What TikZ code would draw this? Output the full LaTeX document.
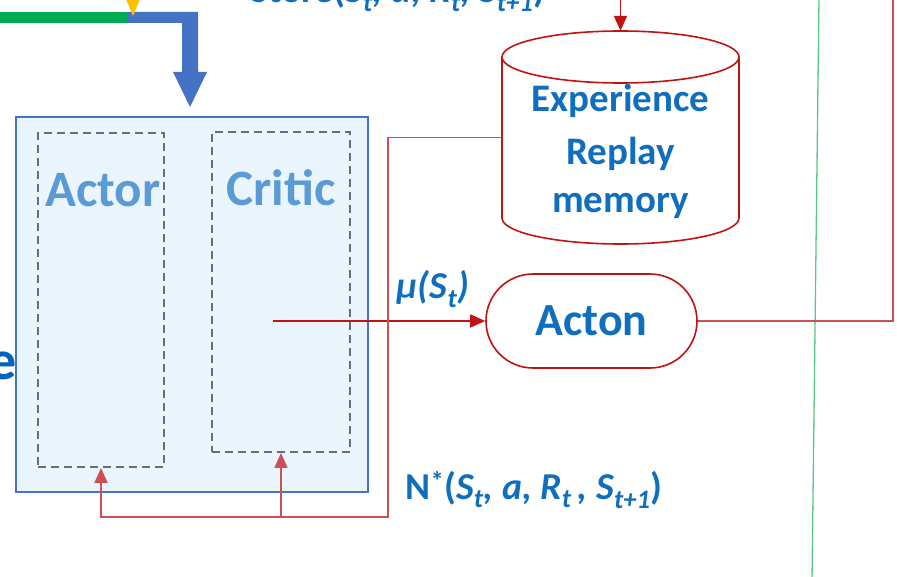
\documentclass[tikz,border=0pt]{standalone}
\usepackage{fontspec}
\setmainfont{Carlito}
\usetikzlibrary{arrows.meta}
\definecolor{boxblue}{RGB}{68,114,196}
\definecolor{boxfill}{RGB}{235,245,253}
\definecolor{dashgray}{RGB}{96,110,135}
\definecolor{lightblue}{RGB}{91,155,213}
\definecolor{textblue}{RGB}{16,110,190}
\definecolor{deepblue}{RGB}{0,100,190}
\definecolor{lineRed}{RGB}{192,20,20}
\definecolor{loopRed}{RGB}{205,80,85}
\definecolor{greenbar}{RGB}{0,170,80}
\definecolor{thingreen}{RGB}{90,200,140}
\definecolor{yellowtip}{RGB}{255,192,0}
\begin{document}
\begin{tikzpicture}[x=1pt,y=-1pt,
  outerbox/.style={draw=boxblue, fill=boxfill, line width=1.3pt, inner sep=0pt},
  dashbox/.style={draw=dashgray, line width=1.8pt, dash pattern=on 8pt off 5pt, inner sep=0pt},
  rolelabel/.style={text=lightblue, font=\fontsize{51}{60}\selectfont\bfseries, inner sep=0pt, anchor=base},
  memlabel/.style={text=textblue, font=\fontsize{39}{48}\selectfont\bfseries, inner sep=0pt, anchor=base},
  redline/.style={draw=lineRed, line width=1.6pt},
  looplne/.style={draw=loopRed, line width=1.5pt},
  redtip/.style={-{Triangle[length=15pt,width=13pt]}},
  sigtext/.style={text=textblue, font=\fontsize{38}{44}\selectfont\bfseries, inner sep=0pt},
]
\useasboundingbox (0,0) rectangle (897,577);

% label text running above the top edge
\node[sigtext, anchor=base west] (storetxt) at (250,3)
  {Store(\textit{S\textsubscript{t}, a, R\textsubscript{t}, S\textsubscript{t+1}})};

% incoming green signal, yellow tip and thick blue arrow into the agent
\draw[greenbar, line width=11pt] (0,17.5) -- (127,17.5);
\fill[boxblue] (127,12) -- (198,12) -- (198,72) -- (207,72) -- (190,107)
  -- (173,72) -- (182,72) -- (182,23) -- (127,23) -- cycle;
\fill[yellowtip] (126,-1) -- (140,-1) -- (133,16) -- cycle;

% thin lines on the right
\coordinate (gtop) at (819,-2);
\coordinate (gbot) at (812,580);
\draw[thingreen, line width=1.3pt] (gtop) -- (gbot);

% word running off the left edge
\node[text=deepblue, font=\fontsize{56}{64}\selectfont\bfseries, inner sep=0pt, anchor=base east] (lefttxt) at (17,379) {e};

% agent box with actor and critic
\node[outerbox, minimum width=352pt, minimum height=375pt] (agent) at (192,304.5) {};
\node[dashbox, minimum width=126pt, minimum height=334pt] (actor) at (101,300) {};
\node[dashbox, minimum width=138pt, minimum height=320pt] (critic) at (281,292) {};
\node[rolelabel] (actortxt) at (103,207) {Actor};
\node[rolelabel] (critictxt) at (281,206) {Critic};

% experience replay memory (cylinder)
\node[minimum width=237pt, minimum height=213pt, inner sep=0pt] (erm) at (620.5,137.5) {};
\draw[redline, fill=white] (502,57) -- (502,218)
  arc[start angle=180, end angle=0, x radius=118.5, y radius=26] -- (739,57);
\draw[redline, fill=white] (620.5,57) ellipse [x radius=118.5, y radius=26];
\node[memlabel] (m1) at (620.5,112) {Experience};
\node[memlabel] (m2) at (620.5,165) {Replay};
\node[memlabel] (m3) at (620.5,213) {memory};

% action block
\node[draw=lineRed, line width=1.6pt, rounded corners=47pt, minimum width=211pt,
  minimum height=94pt, fill=white, text=textblue,
  font=\fontsize{46}{55}\selectfont\bfseries] (acton) at (591.5,321) {Acton};

% connectors
\coordinate (memin) at (620.5,-2);
\draw[redline, redtip] (memin) -- (erm.north);

\coordinate (qout) at (273,321);
\draw[redline, redtip] (qout) -- (acton.west);
\node[sigtext] (mulabel) at (433,289) {\textit{μ(S\textsubscript{t})}};

\coordinate (rtop) at (893,-2);
\draw[looplne] (acton.east) -| (rtop);

\coordinate (bend) at (388,517);
\draw[looplne, redtip] (erm.west) -| (bend) -| (actor.south);
\draw[looplne, redtip] (critic.south |- bend) -- (critic.south);

\node[sigtext] (nlabel) at (534,490)
  {N\textsuperscript{*}(\textit{S\textsubscript{t}, a, R\textsubscript{t}\,, S\textsubscript{t+1}})};
\end{tikzpicture}
\end{document}
